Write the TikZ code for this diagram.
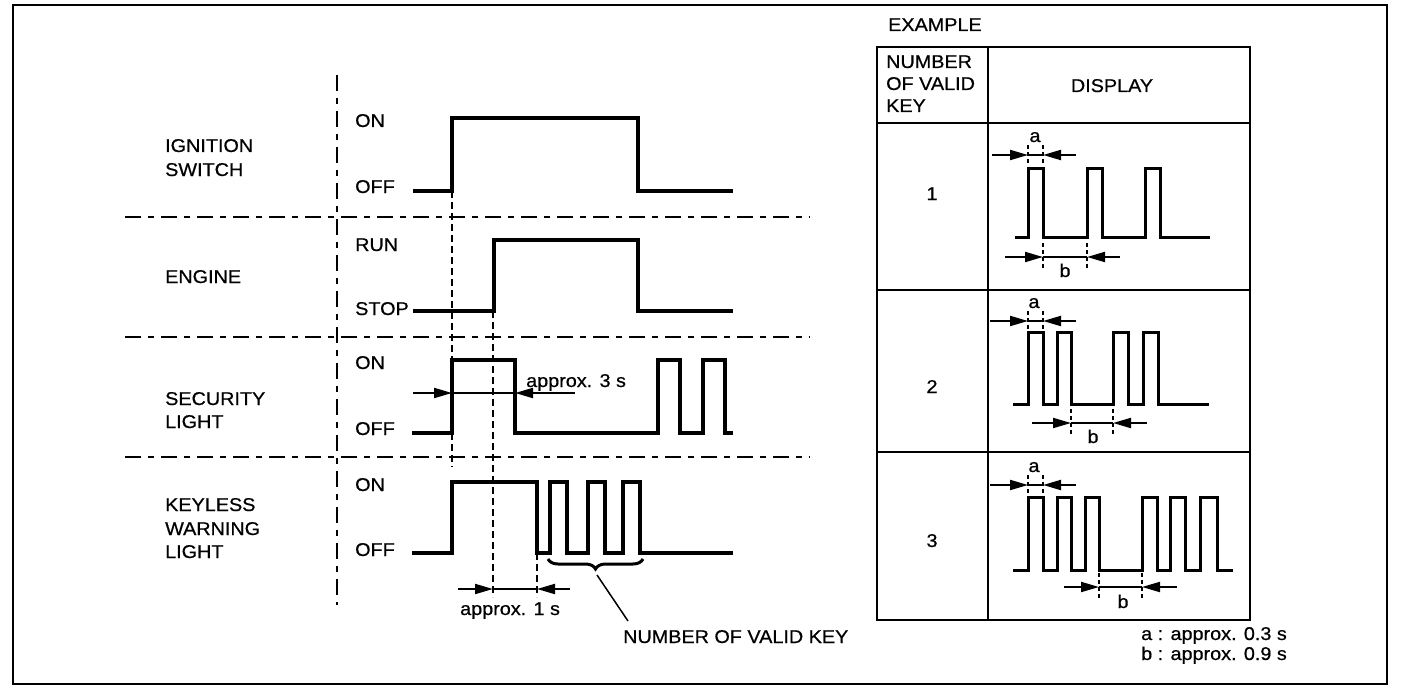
\documentclass[tikz,border=0pt]{standalone}
\usepackage{fontspec}
\setmainfont[FakeStretch=1.07,FakeBold=0.6]{Liberation Sans}
\usetikzlibrary{arrows.meta,decorations.pathreplacing}
\begin{document}
\begin{tikzpicture}[x=1pt,y=-1pt,
  every node/.style={font=\fontsize{18.5}{22}\selectfont, inner sep=0pt},
  lbl/.style={anchor=base west},
  sig/.style={line width=3.5pt, line join=miter},
  dsig/.style={line width=3pt, line join=miter},
  sep/.style={line width=2.2pt, dash pattern=on 16pt off 7pt on 6pt off 7pt},
  guide/.style={line width=1.8pt, dash pattern=on 7pt off 4pt},
  tick/.style={line width=2.6pt, dash pattern=on 4pt off 3pt},
  dim/.style={line width=2pt},
  dimarrow/.style={line width=2pt, -{Triangle[length=18pt,width=10pt]}},
  tbl/.style={line width=2.5pt},
  frame/.style={line width=1.6pt}]
\useasboundingbox (0,0) rectangle (1408,690);
\draw[frame] (13,5) rectangle (1387,684);

% ---------- left: timing chart ----------
\draw[sep] (337,75) -- (337,605);
\draw[sep] (125,217) -- (810,217);
\draw[sep] (125,337) -- (810,337);
\draw[sep] (125,457) -- (810,457);

\node[lbl] (ig1) at (165,152) {IGNITION};
\node[lbl] (ig2) at (165,176) {SWITCH};
\node[lbl] (en1) at (165,283) {ENGINE};
\node[lbl] (se1) at (165,405) {SECURITY};
\node[lbl] (se2) at (165,428) {LIGHT};
\node[lbl] (ke1) at (165,511) {KEYLESS};
\node[lbl] (ke2) at (165,535) {WARNING};
\node[lbl] (ke3) at (165,558) {LIGHT};

\node[lbl] (igon) at (355,127) {ON};
\node[lbl] (igoff) at (355,193) {OFF};
\node[lbl] (enrun) at (355,251) {RUN};
\node[lbl] (enstop) at (355,315) {STOP};
\node[lbl] (seon) at (355,369) {ON};
\node[lbl] (seoff) at (355,435) {OFF};
\node[lbl] (keon) at (355,491) {ON};
\node[lbl] (keoff) at (355,556) {OFF};

% signals
\draw[sig] (413,191) -- (452,191) -- (452,118) -- (638,118) -- (638,191) -- (733,191);
\draw[sig] (413,311) -- (494,311) -- (494,240) -- (638,240) -- (638,311) -- (733,311);
\draw[sig] (412,433) -- (452,433) -- (452,360) -- (515,360) -- (515,433) -- (658,433)
  -- (658,360) -- (680,360) -- (680,433) -- (703,433) -- (703,360) -- (725,360) -- (725,433) -- (733,433);
\draw[sig] (412,553) -- (452,553) -- (452,482) -- (537,482) -- (537,553) -- (550,553)
  -- (550,482) -- (567,482) -- (567,553) -- (588,553) -- (588,482) -- (605,482) -- (605,553)
  -- (623,553) -- (623,482) -- (640,482) -- (640,553) -- (733,553);

% guide lines
\draw[guide] (452,191) -- (452,467);
\draw[guide] (493,311) -- (493,597);
\draw[guide] (537,553) -- (537,597);

% approx. 3 s
\draw[dim] (452,393) -- (515,393);
\draw[dimarrow] (413,393) -- (452,393);
\draw[dimarrow] (575,393) -- (515,393);
\node[lbl] (ap3) at (526,387) {approx. 3 s};

% approx. 1 s
\draw[dim] (493,589) -- (537,589);
\draw[dimarrow] (458,589) -- (493,589);
\draw[dimarrow] (570,589) -- (537,589);
\node[lbl] (ap1) at (460,615) {approx. 1 s};

% brace and leader
\draw[line width=3pt, decorate, decoration={brace, mirror, amplitude=10pt}] (548,559) -- (643,559);
\coordinate (bracetip) at (597,575);
\node[lbl] (nvk) at (623,643) {NUMBER OF VALID KEY};
\coordinate (leadend) at (628,621);
\draw[line width=1.5pt] (bracetip) -- (leadend);

% ---------- right: example table ----------
\node[lbl] (ex) at (888,31) {EXAMPLE};
\draw[tbl] (877,47) rectangle (1250,620);
\draw[tbl] (988,47) -- (988,620);
\draw[tbl] (877,123) -- (1250,123);
\draw[tbl] (877,290) -- (1250,290);
\draw[tbl] (877,452) -- (1250,452);

\node[lbl] (h1) at (886,68) {NUMBER};
\node[lbl] (h2) at (886,90) {OF VALID};
\node[lbl] (h3) at (886,112) {KEY};
\node[anchor=base] (disp) at (1112,92) {DISPLAY};

\node[anchor=base] (n1) at (932,200) {1};
\node[anchor=base] (n2) at (932,393) {2};
\node[anchor=base] (n3) at (932,547) {3};

% row 1
\draw[dsig] (1015,237) -- (1028,237) -- (1028,168) -- (1043,168) -- (1043,237) -- (1087,237)
  -- (1087,168) -- (1102,168) -- (1102,237) -- (1145,237) -- (1145,168) -- (1160,168) -- (1160,237) -- (1210,237);
\draw[dim] (1028,155) -- (1043,155);
\draw[dimarrow] (992,155) -- (1028,155);
\draw[dimarrow] (1076,155) -- (1043,155);
\draw[tick] (1028,145) -- (1028,163);
\draw[tick] (1043,145) -- (1043,163);
\node[anchor=base] (a1) at (1035,142) {a};
\draw[dim] (1043,257) -- (1087,257);
\draw[dimarrow] (1005,257) -- (1043,257);
\draw[dimarrow] (1120,257) -- (1087,257);
\draw[tick] (1043,243) -- (1043,270);
\draw[tick] (1087,243) -- (1087,270);
\node[anchor=base] (b1) at (1065,277) {b};

% row 2
\draw[dsig] (1013,404) -- (1028,404) -- (1028,332) -- (1043,332) -- (1043,404) -- (1057,404)
  -- (1057,332) -- (1071,332) -- (1071,404) -- (1113,404) -- (1113,332) -- (1128,332) -- (1128,404)
  -- (1143,404) -- (1143,332) -- (1158,332) -- (1158,404) -- (1209,404);
\draw[dim] (1028,321) -- (1043,321);
\draw[dimarrow] (990,321) -- (1028,321);
\draw[dimarrow] (1076,321) -- (1043,321);
\draw[tick] (1028,311) -- (1028,329);
\draw[tick] (1043,311) -- (1043,329);
\node[anchor=base] (a2) at (1034,308) {a};
\draw[dim] (1071,423) -- (1113,423);
\draw[dimarrow] (1032,423) -- (1071,423);
\draw[dimarrow] (1147,423) -- (1113,423);
\draw[tick] (1071,409) -- (1071,436);
\draw[tick] (1113,409) -- (1113,436);
\node[anchor=base] (b2) at (1093,443) {b};

% row 3
\draw[dsig] (1013,570) -- (1028,570) -- (1028,497) -- (1043,497) -- (1043,570) -- (1057,570)
  -- (1057,497) -- (1071,497) -- (1071,570) -- (1085,570) -- (1085,497) -- (1099,497) -- (1099,570)
  -- (1142,570) -- (1142,497) -- (1157,497) -- (1157,570) -- (1170,570) -- (1170,497) -- (1185,497)
  -- (1185,570) -- (1200,570) -- (1200,497) -- (1217,497) -- (1217,570) -- (1233,570);
\draw[dim] (1028,485) -- (1043,485);
\draw[dimarrow] (990,485) -- (1028,485);
\draw[dimarrow] (1076,485) -- (1043,485);
\draw[tick] (1028,475) -- (1028,493);
\draw[tick] (1043,475) -- (1043,493);
\node[anchor=base] (a3) at (1034,472) {a};
\draw[dim] (1099,587) -- (1142,587);
\draw[dimarrow] (1064,587) -- (1099,587);
\draw[dimarrow] (1177,587) -- (1142,587);
\draw[tick] (1099,573) -- (1099,600);
\draw[tick] (1142,573) -- (1142,600);
\node[anchor=base] (b3) at (1123,608) {b};

% footnotes
\node[lbl] (fa) at (1141,640) {a : approx. 0.3 s};
\node[lbl] (fb) at (1141,660) {b : approx. 0.9 s};
\end{tikzpicture}
\end{document}
